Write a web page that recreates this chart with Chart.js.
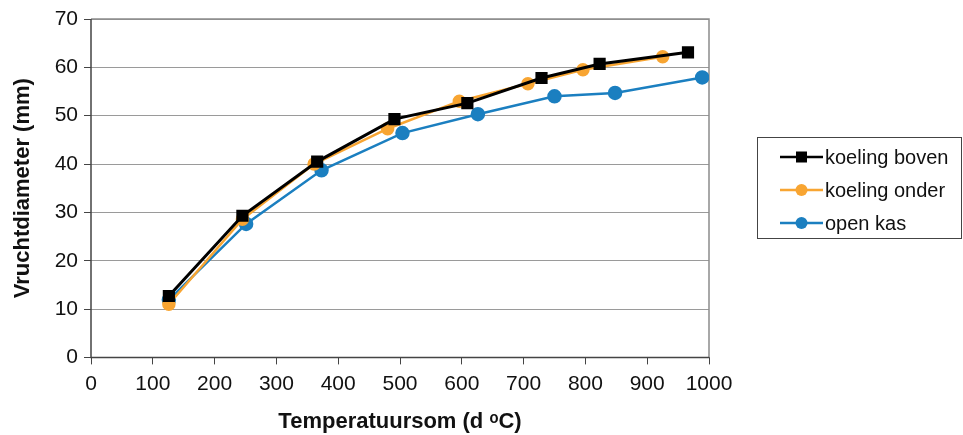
<!DOCTYPE html>
<html>
<head>
<meta charset="utf-8">
<script src="https://cdn.jsdelivr.net/npm/chart.js@4.4.1/dist/chart.umd.min.js"></script>
<style>
  html, body { margin: 0; padding: 0; background: #fff; }
  #wrap { width: 963px; height: 435px; position: relative; }
</style>
</head>
<body>
<div id="wrap"><canvas id="chart"></canvas></div>
<script>
// temperatuursom (d oC) en vruchtdiameter (mm) per behandeling
const boven_x = [126, 245, 366, 491, 609, 729, 823, 966];
const boven_y = [12.7, 29.3, 40.5, 49.3, 52.6, 57.8, 60.7, 63.1];
const onder_x = [126, 245, 361, 480, 596, 707, 796, 925];
const onder_y = [11.0, 28.6, 40.0, 47.3, 53.0, 56.6, 59.5, 62.2];
const open_x = [126, 251, 373, 504, 626, 750, 848, 989];
const open_y = [11.9, 27.6, 38.7, 46.4, 50.3, 54.0, 54.7, 57.9];
const seriesNames = ['koeling boven', 'koeling onder', 'open kas'];

const xTicks = [0, 100, 200, 300, 400, 500, 600, 700, 800, 900, 1000];
const yTicks = [0, 10, 20, 30, 40, 50, 60, 70];

function pts(xs, ys) { return xs.map((x, i) => ({ x: x, y: ys[i] })); }

const FONT = 'Liberation Sans, Arial, sans-serif';

// frame + legend box drawn by hand
const framePlugin = {
  id: 'frame',
  beforeDatasetsDraw(chart) {
    const { ctx, chartArea: a } = chart;
    ctx.save();
    ctx.strokeStyle = '#8c8c8c';
    ctx.lineWidth = 1.5;
    ctx.beginPath();
    ctx.moveTo(a.left, a.top);
    ctx.lineTo(a.right, a.top);
    ctx.lineTo(a.right, a.bottom);
    ctx.stroke();
    ctx.strokeStyle = '#444';
    ctx.beginPath();
    ctx.moveTo(a.left, a.top);
    ctx.lineTo(a.left, a.bottom);
    ctx.lineTo(a.right, a.bottom);
    ctx.stroke();
    ctx.restore();
  },
  afterDraw(chart) {
    const { ctx } = chart;
    const bx = 757, by = 137, bw = 204, bh = 101;
    ctx.save();
    ctx.strokeStyle = '#444';
    ctx.lineWidth = 1;
    ctx.strokeRect(bx + 0.5, by + 0.5, bw, bh);
    ctx.font = '20px ' + FONT;
    ctx.textBaseline = 'middle';
    chart.data.datasets.forEach((ds, i) => {
      const cy = by + 20 + i * 33;
      ctx.strokeStyle = ds.borderColor;
      ctx.lineWidth = 2.5;
      ctx.beginPath();
      ctx.moveTo(780, cy);
      ctx.lineTo(823, cy);
      ctx.stroke();
      ctx.fillStyle = ds.pointBackgroundColor;
      if (ds.pointStyle === 'rect') {
        ctx.fillRect(796, cy - 5.5, 11, 11);
      } else {
        ctx.beginPath();
        ctx.arc(801.5, cy, 6, 0, Math.PI * 2);
        ctx.fill();
      }
      ctx.fillStyle = '#111';
      ctx.fillText(ds.label, 825, cy + 1);
    });
    ctx.restore();
  }
};

new Chart(document.getElementById('chart'), {
  type: 'line',
  data: {
    datasets: [
      {
        label: seriesNames[0], data: pts(boven_x, boven_y),
        borderColor: '#000', pointBackgroundColor: '#000', pointBorderColor: '#000',
        pointStyle: 'rect', pointRadius: 6.5, borderWidth: 3
      },
      {
        label: seriesNames[1], data: pts(onder_x, onder_y),
        borderColor: '#f8a532', pointBackgroundColor: '#f8a532', pointBorderColor: '#f8a532',
        pointStyle: 'circle', pointRadius: 5.5, borderWidth: 2.5
      },
      {
        label: seriesNames[2], data: pts(open_x, open_y),
        borderColor: '#1b7fc0', pointBackgroundColor: '#1b7fc0', pointBorderColor: '#1b7fc0',
        pointStyle: 'circle', pointRadius: 6, borderWidth: 2.5
      }
    ]
  },
  options: {
    responsive: true,
    maintainAspectRatio: false,
    animation: false,
    layout: { padding: { top: 19, right: 254, left: 6, bottom: -4 } },
    plugins: {
      legend: { display: false },
      tooltip: { enabled: false }
    },
    scales: {
      x: {
        type: 'linear', min: 0, max: 1000,
        afterBuildTicks: s => { s.ticks = xTicks.map(v => ({ value: v })); },
        grid: { drawOnChartArea: false, tickLength: 7, tickColor: '#444', lineWidth: 1 },
        border: { display: false },
        ticks: {
          color: '#111', font: { family: FONT, size: 21 }, padding: 7, maxRotation: 0,
          callback: v => String(v)
        },
        title: {
          display: true, text: 'Temperatuursom (d \u1D52C)', color: '#111',
          font: { family: FONT, size: 22, weight: 'bold' }, padding: { top: 5 }
        }
      },
      y: {
        min: 0, max: 70,
        afterBuildTicks: s => { s.ticks = yTicks.map(v => ({ value: v })); },
        afterFit: s => { s.width = 85; },
        grid: {
          color: '#9a9a9a', lineWidth: 1, borderDash: [2, 2],
          tickLength: 7, tickColor: '#444', tickBorderDash: []
        },
        border: { display: false },
        ticks: { color: '#111', font: { family: FONT, size: 21 }, padding: 6 },
        title: {
          display: true, text: 'Vruchtdiameter (mm)', color: '#111',
          font: { family: FONT, size: 22, weight: 'bold' }, padding: { bottom: 2 }
        }
      }
    }
  },
  plugins: [framePlugin]
});
</script>
</body>
</html>
